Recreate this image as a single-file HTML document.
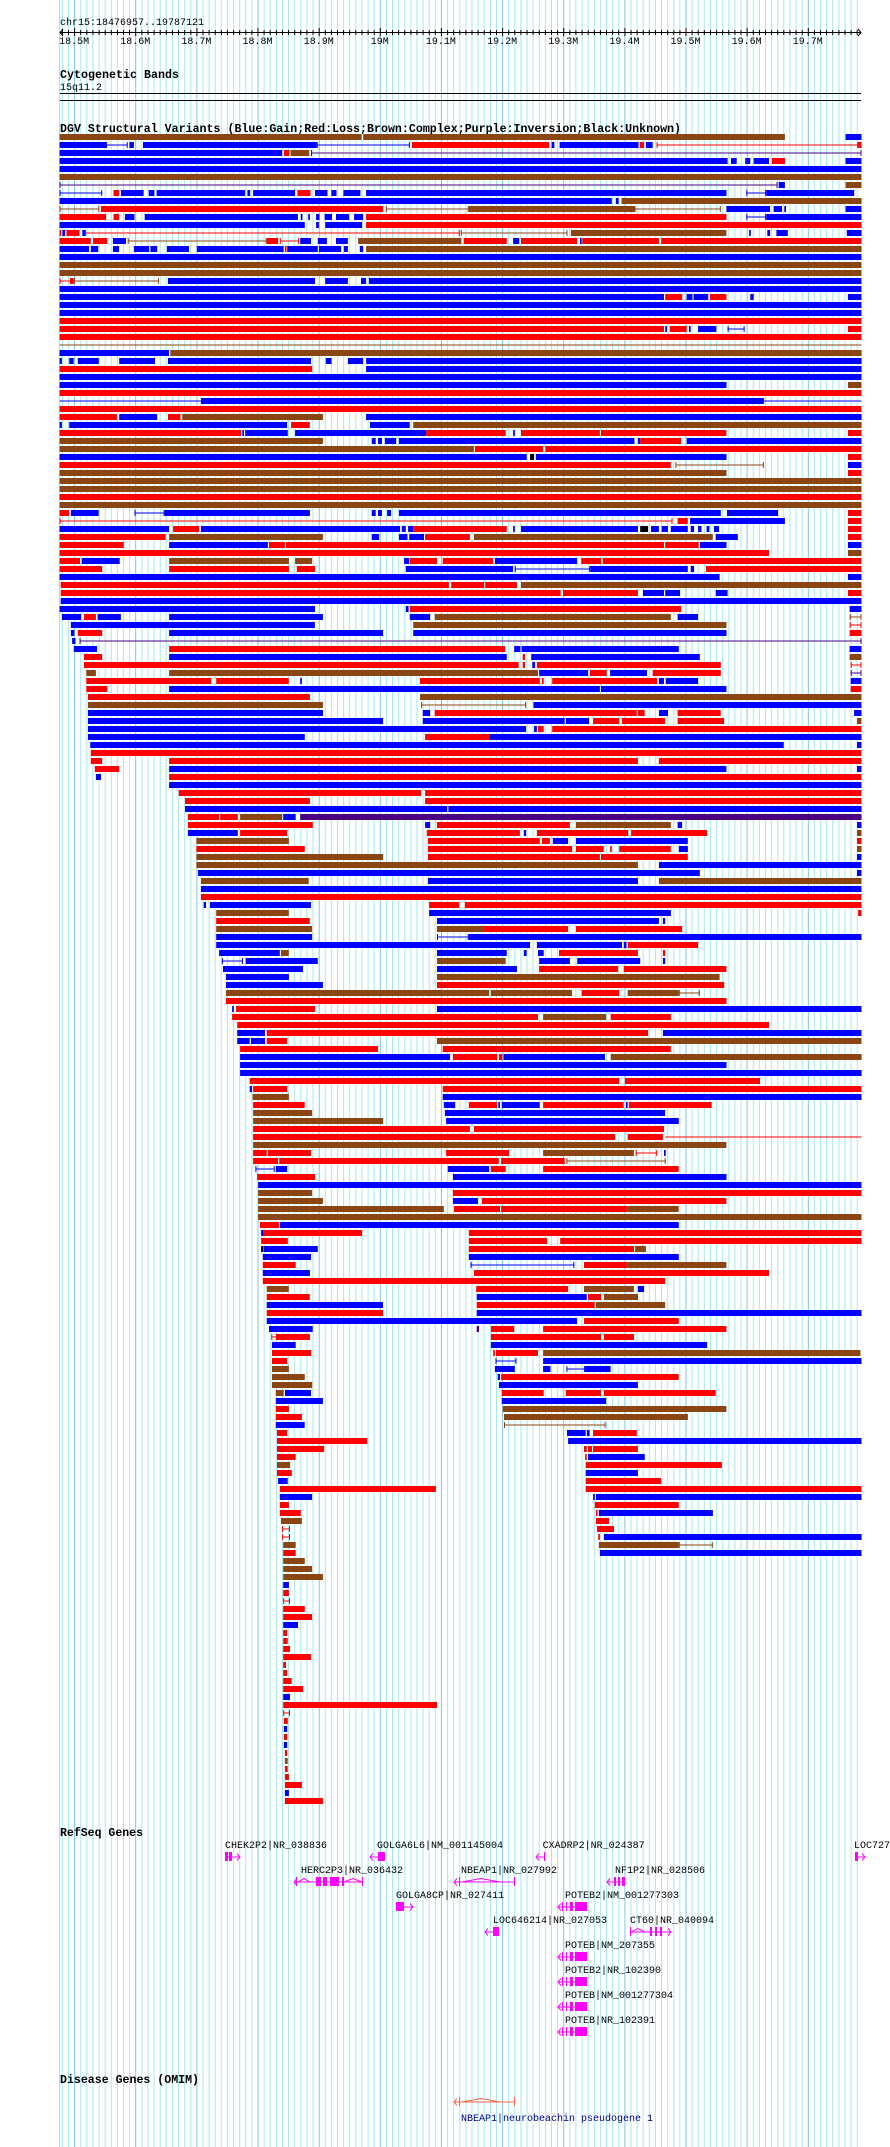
<!DOCTYPE html>
<html><head><meta charset="utf-8"><style>
html,body{margin:0;padding:0;background:#fff;}
svg{display:block;}
text{font-family:"Liberation Mono",monospace;}
</style></head><body>
<svg id="s" xmlns="http://www.w3.org/2000/svg" width="890" height="2147" viewBox="0 0 890 2147">
<rect width="890" height="2147" fill="#fff"/>
<g id="grid"></g>
<g id="axis"></g>
<text x="60" y="25" font-size="10">chr15:18476957..19787121</text>
<text x="60" y="78" font-size="12" font-weight="bold" textLength="119" lengthAdjust="spacingAndGlyphs">Cytogenetic Bands</text>
<text x="60" y="90" font-size="10">15q11.2</text>
<rect x="60" y="93" width="801" height="1" fill="#000"/>
<rect x="60" y="100" width="801" height="1" fill="#000"/>
<text x="60" y="132" font-size="12" font-weight="bold" textLength="621" lengthAdjust="spacingAndGlyphs">DGV Structural Variants (Blue:Gain;Red:Loss;Brown:Complex;Purple:Inversion;Black:Unknown)</text>
<g id="bars"></g>
<text x="60" y="1836" font-size="12" font-weight="bold" textLength="83" lengthAdjust="spacingAndGlyphs">RefSeq Genes</text>
<g id="genes" font-size="10"></g>
<text x="60" y="2083" font-size="12" font-weight="bold" textLength="139" lengthAdjust="spacingAndGlyphs">Disease Genes (OMIM)</text>
<text x="461" y="2121" font-size="10" fill="#00008b">NBEAP1|neurobeachin pseudogene 1</text>
</svg>
<script>
var NS="http://www.w3.org/2000/svg";
function el(p,t,a,txt){var e=document.createElementNS(NS,t);for(var k in a)e.setAttribute(k,a[k]);if(txt)e.textContent=txt;p.appendChild(e);return e;}
var grid=document.getElementById('grid');
el(grid,'rect',{x:59,y:0,width:1,height:2147,fill:'#9ee6ea'});
var x0=74.1,st=6.114;
for(var i=-2;i<=128;i++){var x=x0+i*st;if(x>858)break;el(grid,'rect',{x:x.toFixed(1),y:0,width:1,height:2147,fill:(i%10==0)?'#7ec6ea':'#a6eaee'});}
var ax=document.getElementById('axis');
el(ax,'rect',{x:60,y:32,width:801,height:1,fill:'#000'});
el(ax,'path',{d:'M63 29 L60 32.5 L63 36 M858 29 L861 32.5 L858 36',stroke:'#000',fill:'none','stroke-width':1});
for(var i=-2;i<=128;i++){var x=x0+i*st;if(x>858)break;var mj=(i%10==0);el(ax,'rect',{x:x.toFixed(1),y:mj?28:30,width:1,height:mj?8:5,fill:'#000'});}
var labs=['18.5M','18.6M','18.7M','18.8M','18.9M','19M','19.1M','19.2M','19.3M','19.4M','19.5M','19.6M','19.7M'];
for(var i=0;i<labs.length;i++){el(ax,'text',{x:(x0+i*61.14).toFixed(1),y:44,'font-size':10,'text-anchor':'middle'},labs[i]);}
var rows=[
"n105-637 n640-1383 b1490-1518",
"b105-187 Lb187-225 b228-236 b252-558 Lb558-722 r726-968 b972-977 b986-1125 r1127-1135 b1138-1150 Lr1157-1512 r1512-1518",
"b105-497 r500-510 n512-545 Lp548-1518",
"b105-1282 b1288-1298 b1313-1322 b1328-1355 r1360-1383 b1490-1518",
"b105-1518","n105-1518",
"Lp105-1370 b1372-1383 n1490-1518",
"Lb105-180 r200-210 b213-253 b262-272 b276-432 b436-441 b446-520 r524-547 b555-577 b584-593 b605-635 b645-1280 Lb1315-1350 b1350-1505",
"b105-1078 b1085-1090 n1095-1518",
"Ln105-175 r178-675 Ln680-826 n826-1118 Ln1118-1270 b1280-1357 b1363-1378 b1382-1385 b1490-1518",
"r105-187 r200-210 b220-237 b255-525 b530-533 b543-546 b557-563 b572-585 b592-615 b624-640 r645-1280 Lb1315-1350 b1350-1518",
"b105-537 b557-562 b573-638 r645-1518",
"r105-108 b110-115 r117-140 b145-150 Lr150-810 Ln812-1000 n1006-1280 b1320-1323 b1352-1357 b1368-1388 b1492-1518",
"r105-160 r164-189 b199-222 Ln225-470 r470-490 Lr493-527 b529-548 b560-576 b592-613 n631-813 r817-893 b904-915 r918-1017 b1022-1025 r1026-1161 r1165-1518",
"b105-157 b160-173 b199-210 b236-263 b265-277 b294-333 b347-500 r502-505 b506-560 b562-601 b606-613 b634-640 n645-1518",
"b105-1518","n105-1518","n105-1518",
"Lr105-125 r124-130 Ln130-280 b296-555 b573-613 b636-645 b650-1518",
"b105-1518",
"b105-1170 r1172-1202 b1210-1220 b1222-1248 r1251-1280 b1322-1328 b1494-1518",
"b105-1518","b105-1518","r105-1518",
"r105-1170 b1172-1175 r1180-1210 b1214-1217 b1230-1262 Lb1282-1312 r1494-1518",
"r105-1518",
"Mn105-1518",
"b105-298 n300-1518",
"b105-109 b122-130 b137-174 b210-273 b296-548 b574-584 b613-640 b645-1518",
"r105-550 b645-1518",
"b105-1518",
"b105-1280 n1494-1518",
"r105-1518",
"Mb105-354 b354-1346 Mb1346-1518",
"r105-1518",
"r105-206 b210-277 r296-318 n321-569 b645-1518",
"b105-109 b122-506 r513-546 b652-722 n728-1518",
"r105-425 b427-430 b432-507 b520-751 r751-891 b904-907 r918-1057 r1059-1280 r1494-1518",
"n105-569 b655-662 b666-673 b678-698 b703-1118 b1124-1128 r1128-1200 b1210-1518",
"n105-835 r837-957 r961-1518",
"b105-928 k934-941 b944-1280 r1494-1518",
"r105-1182 Ln1190-1346 b1494-1518",
"n105-1280 r1494-1518",
"n105-1518","n105-1518","r105-1518","n105-1518",
"r105-122 b125-174 Lb237-290 b290-546 b655-662 b666-673 b682-689 b703-1270 b1281-1371 r1494-1518",
"Lr105-1185 r1194-1212 b1216-1383 r1494-1518",
"b105-298 r305-351 b354-705 b708-715 b719-728 r728-893 b904-907 b918-1124 k1128-1142 b1147-1161 b1166-1177 b1182-1212 b1217-1223 b1230-1236 b1245-1250 b1258-1267 r1494-1518",
"r105-292 n298-569 b655-668 b703-718 b721-747 r749-828 n835-1256 b1261-1300 r1494-1518",
"r105-218 b298-472 r474-502 r504-1170 r1172-1231 b1233-1280 b1494-1518",
"r105-1355 n1494-1518",
"r105-141 b144-211 n298-509 n520-550 b712-721 r722-770 r780-869 b872-1017 r1024-1059 r1062-1518",
"r105-180 r298-509 r523-555 b715-904 Lb907-1040 b1040-1212 b1217-1223 r1244-1518",
"b105-1268 b1494-1518",
"r107-791 r795-853 r855-911 n918-1518",
"r107-988 r992-1124 b1133-1170 b1172-1198 b1261-1282 r1494-1518",
"b107-1518",
"b105-555 b715-720 r722-1200 b1497-1518",
"b109-143 r148-169 b172-213 b298-569 b722-758 n766-1182 b1194-1230 Ln1497-1518",
"b125-555 n728-1280 Lr1497-1518",
"b125-131 r137-180 b298-675 b728-1280 r1497-1518",
"b127-133 Lp140-1518",
"b130-171 r298-890 b906-917 b919-1196 b1497-1518",
"r148-180 b298-893 r921-925 b936-1233 n1497-1518",
"r148-914 r921-925 b938-943 r946-1270 Lr1499-1518",
"n152-169 n298-948 b950-1036 r1039-1069 b1075-1140 r1150-1270 Lp1499-1518",
"r152-372 r381-509 b529-532 r740-951 r955-958 r973-1158 b1161-1170 b1173-1230 b1499-1518",
"r152-189 b298-1057 b1059-1280 r1499-1518",
"r155-546 n740-1518",
"n155-569 Ln742-927 b940-1518",
"b155-569 b745-758 r766-1122 r1124-1136 b1161-1177 r1194-1270 b1505-1518",
"b155-675 b745-995 b997-1038 r1045-1091 r1096-1172 r1194-1276 n1510-1518",
"b155-927 b941-946 r948-958 r973-1518",
"b155-537 r749-862 b862-1518",
"b159-1381 b1510-1518",
"r160-1518",
"r160-180 r298-1124 r1161-1518",
"r167-210 b298-1280 b1510-1518",
"b169-178 r298-1518",
"b298-1518",
"r315-742 r749-1518",
"r326-546 r749-1518",
"b326-788 b790-1518",
"r331-386 r388-419 n423-497 b499-521 p529-1518",
"r331-551 b749-758 r770-1004 n1015-1182 b1194-1202 b1510-1518",
"b331-419 r423-506 r752-916 b923-927 r946-1107 r1112-1246 n1510-1518",
"n346-509 r754-951 r955-969 b974-1001 b1015-1212 r1510-1518",
"r346-537 r754-1008 r1015-1064 r1075-1078 r1091-1182 b1196-1212 n1510-1518",
"n346-675 r754-1057 r1059-1212 b1510-1518",
"n346-1124 b1161-1518",
"b349-1233 b1510-1518",
"n354-544 b754-1124 n1161-1518",
"b354-1518",
"r354-1518",
"b359-363 b370-548 r756-809 r819-1518",
"n381-509 b756-1182 r1512-1518",
"r381-546 b770-1161 b1168-1172",
"n381-550 n770-853 r853-1001 r1015-1202",
"b381-550 Lb770-826 b826-1518",
"b381-934 b946-1096 b1099-1104 r1106-1230",
"b386-493 n495-509 b770-893 b923-928 b948-958 r985-1124 r1168-1172",
"Lb391-428 b433-560 n770-891 b950-1004 b1017-1128 b1168-1172",
"b393-534 b770-911 r950-1089 r1099-1280",
"b398-509 n770-1268",
"b398-569 r770-1276",
"n398-862 n865-1008 r1025-1091 n1106-1196 Ln1196-1233",
"r398-1280",
"b409-412 r416-555 b770-1518",
"r409-948 n957-1068 r1076-1182",
"r418-1355",
"b418-467 r470-1142 b1168-1518",
"b418-440 b442-467 r470-506 n770-1518",
"r423-666 r780-1182",
"b423-793 r798-876 r879-885 b887-1066 n1076-1518",
"b423-1280",
"b423-1518",
"r440-1091 r1101-1339",
"b440-444 r446-506 r780-1518",
"n445-509 b780-1518",
"r446-537 b782-802 r826-876 b878-881 b884-951 r957-1099 b1103-1106 r1108-1254",
"n446-550 b784-1172",
"n446-675 b786-1196",
"r446-828 r835-1170",
"r446-1084 r1106-1168 Mr1172-1518",
"n446-1280",
"r446-470 r472-548 r786-897 n957-1117 Lr1120-1158 b1170-1173",
"r446-490 r492-879 r883-995 Ln998-1173",
"Lb450-484 b486-506 b789-862 r865-891 r957-1196",
"r453-555 b798-1280",
"b455-1518",
"n455-550 r798-1518",
"n455-569 b798-842 r849-1280",
"n455-782 r800-881 r883-1105 n1105-1196",
"n455-1518",
"r458-492 b493-1196",
"b460-464 r464-638 r826-1518",
"r460-507 r826-964 r987-1518",
"k460-464 b465-560 r826-1117 n1119-1138",
"b463-548 b826-1196",
"r463-521 Lb829-1012 r1029-1105 n1105-1280",
"b463-546 r835-1355",
"r463-1172",
"n470-509 r839-1001 n1029-1117 b1124-1135",
"r470-546 b840-1034 r1036-1059 n1064-1124",
"b470-675 r840-1048 n1050-1172",
"r470-675 b840-1518",
"b470-1017 r1029-1196",
"b474-551 p840-844 r865-906 r957-1280",
"Lr478-488 r488-546 r865-1059 r1064-1117",
"b479-521 b865-1246",
"r479-548 r869-872 r874-948 n957-1516",
"r479-506 Lb873-910 b957-1518",
"n479-509 b872-907 b957-970 Lb998-1031 b1031-1076",
"n479-537 b877-881 r883-1196",
"n479-550 b879-1124",
"n486-500 b502-548 r884-958 r997-1059 r1064-1261",
"b486-569 b884-1068",
"r486-509 n886-1280",
"r486-532 n888-1212",
"b486-537 Ln888-1067",
"r488-506 b999-1032 b1034-1039 r1045-1122",
"r488-647 b1001-1518",
"r488-571 r1029-1034 r1036-1043 r1045-1124",
"r488-521 r1031-1034 b1036-1136",
"n488-511 r1032-1272",
"r488-514 b1032-1124",
"b490-507 r1032-1165",
"r493-768 r1032-1518",
"b493-550 b1045-1048 b1050-1518",
"r493-509 r1048-1196",
"r493-530 r1050-1053 b1055-1256",
"n495-532 r1050-1073",
"Lr497-511 r1052-1082",
"Lr497-511 r1054-1057 b1064-1518",
"n499-521 n1055-1196 Ln1196-1256",
"r499-521 b1057-1518",
"n499-537","n499-550","n499-569","b499-509","r499-509","Lr499-511",
"r499-537","r499-550","b499-525","r499-506","r499-507","r499-511","r499-548","r499-504","r499-506","r499-514","r499-534","b499-511","r499-770","Lr499-511",
"r500-507","b500-506","r500-506","b500-506","r502-506","n502-507","r502-507","r502-509","r502-532","b502-509","r502-569"
];
var C={b:'#0000ff',r:'#ff0000',n:'#8b4513',p:'#4b0082',k:'#000000'};
var bars=document.getElementById('bars');var S=1.762;
for(var k=0;k<rows.length;k++){
 var y=134+8*k;var t=rows[k].split(' ');
 for(var j=0;j<t.length;j++){
  var s=t[j];var line=0;if(s[0]=='L'){line=1;s=s.slice(1);}else if(s[0]=='M'){line=2;s=s.slice(1);}
  var c=C[s[0]];var ab=s.slice(1).split('-');var a=(+ab[0])/S,b=(+ab[1])/S;
  if(line){el(bars,'rect',{x:a.toFixed(1),y:y+2.5,width:(b-a).toFixed(1),height:1,fill:c});
   if(line==1){el(bars,'rect',{x:a.toFixed(1),y:y,width:1,height:6,fill:c});el(bars,'rect',{x:(b-1).toFixed(1),y:y,width:1,height:6,fill:c});}}
  else el(bars,'rect',{x:a.toFixed(1),y:y,width:Math.max(1,b-a).toFixed(1),height:6,fill:c});
 }
}
var g=document.getElementById('genes');var M='#ff00ff';
function gene(lbl,lx,ly,x1,x2,dir,blocks,hats,col){
 col=col||M;
 if(lbl)el(g,'text',{x:lx,y:ly},lbl);
 var y=ly+4,m=y+4.5;
 el(g,'rect',{x:x1,y:m,width:x2-x1,height:1,fill:col});
 for(var i=0;i<blocks.length;i++)el(g,'rect',{x:blocks[i][0],y:y,width:blocks[i][1]-blocks[i][0],height:9,fill:col});
 if(dir<0){el(g,'path',{d:'M'+(x1+3)+' '+(m-3)+' L'+x1+' '+(m+0.5)+' L'+(x1+3)+' '+(m+4),stroke:col,fill:'none'});}
 if(dir>0){el(g,'path',{d:'M'+(x2-3)+' '+(m-3)+' L'+x2+' '+(m+0.5)+' L'+(x2-3)+' '+(m+4),stroke:col,fill:'none'});}
 for(var i=0;i<hats.length;i++){var h=hats[i];el(g,'path',{d:'M'+h[0]+' '+(m+0.5)+' L'+((h[0]+h[1])/2)+' '+(m-3)+' L'+h[1]+' '+(m+0.5),stroke:col,fill:'none'});}
}
gene('CHEK2P2|NR_038836',225,1848,225,240,1,[[225,228],[229,232]],[]);
gene('GOLGA6L6|NM_001145004',377,1848,370,385,-1,[[378,385]],[]);
gene('CXADRP2|NR_024387',542.6,1848,536,545,-1,[[544,545]],[]);
gene('LOC727',854,1848,855,865,1,[[855,858]],[]);
gene('HERC2P3|NR_036432',301,1873,294,363,-1,[[296,297],[316,321],[323,327],[330,339],[342,344],[362,363]],[[298,310],[344,362]]);
gene('NBEAP1|NR_027992',461,1873,454,515,-1,[[459,460],[514,515]],[[462,500]]);
gene('NF1P2|NR_028506',615,1873,607,625,-1,[[614,616],[618,620],[622,625]],[]);
gene('GOLGA8CP|NR_027411',396,1898,396,413,1,[[396,404]],[]);
gene('POTEB2|NM_001277303',565,1898,558,587,-1,[[562,563],[566,567],[570,573],[575,587]],[]);
gene('LOC646214|NR_027053',493,1923,485,499,-1,[[493,499]],[]);
gene('CT60|NR_040094',630,1923,630,671,1,[[630,631],[650,652],[655,657],[660,662]],[[631,645]]);
var py=['POTEB|NM_207355','POTEB2|NR_102390','POTEB|NM_001277304','POTEB|NR_102391'];
for(var i=0;i<4;i++)gene(py[i],565,1948+25*i,558,587,-1,[[562,563],[566,567],[570,573],[575,587]],[]);
gene('',0,2093,454,515,-1,[[459,460],[514,515]],[[462,500]],'#ff6347');
</script>
</body></html>
